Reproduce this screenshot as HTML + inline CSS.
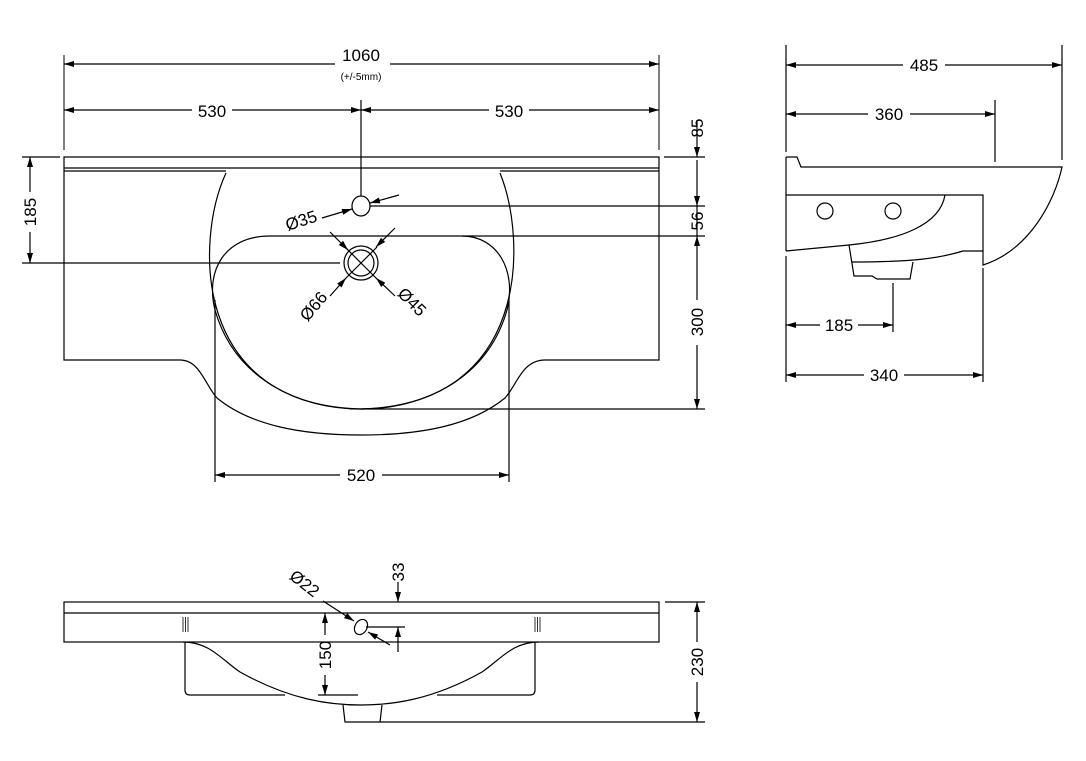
<!DOCTYPE html>
<html><head><meta charset="utf-8"><style>
html,body{margin:0;padding:0;background:#fff;}
svg{display:block;}
text{font-family:"Liberation Sans",sans-serif;font-size:17px;fill:#000;}
</style></head><body>
<svg width="1086" height="761" viewBox="0 0 1086 761" xmlns="http://www.w3.org/2000/svg">
<defs>
<marker id="a" viewBox="0 0 10 6" refX="10" refY="3" markerWidth="14" markerHeight="6" markerUnits="userSpaceOnUse" orient="auto-start-reverse"><path d="M0,0 L10,3 L0,6 z" fill="#000"/></marker>
</defs>
<g fill="none" stroke="#000" stroke-width="1.2">
<!-- TOP VIEW -->
<path d="M180,360 H64 V157 H659 V360 H545"/>
<path d="M180,360 C200,360 205,385 217,398 C250,425 300,435 361,435 C422,435 472,425 505,398 C517,385 522,360 545,360"/>
<line x1="64" y1="168" x2="659" y2="168"/>
<line x1="64" y1="171" x2="226" y2="171"/>
<line x1="500" y1="171" x2="659" y2="171"/>
<path d="M226,173 C195,240 192,405 361,409 C530,405 527,240 500,173"/>
<path d="M270,236 C225,236 205,270 215,310 C235,380 300,409 361,409 C422,409 487,380 507,310 C517,270 497,236 462,236"/>
<ellipse cx="361" cy="206" rx="9" ry="10"/>
<circle cx="361" cy="263" r="17"/><circle cx="361" cy="263" r="13"/>
<line x1="345" y1="247" x2="377" y2="279"/><line x1="377" y1="247" x2="345" y2="279"/>
<!-- dims top -->
<line x1="64" y1="55" x2="64" y2="150" stroke-width="1"/>
<line x1="659" y1="55" x2="659" y2="150" stroke-width="1"/>
<line x1="64" y1="64" x2="335" y2="64" marker-start="url(#a)"/>
<line x1="390" y1="64" x2="659" y2="64" marker-end="url(#a)"/>
<line x1="64" y1="110" x2="192" y2="110" marker-start="url(#a)"/>
<line x1="232" y1="110" x2="361" y2="110" marker-end="url(#a)"/>
<line x1="361" y1="110" x2="489" y2="110" marker-start="url(#a)"/>
<line x1="529" y1="110" x2="659" y2="110" marker-end="url(#a)"/>
<line x1="361" y1="100" x2="361" y2="196"/>
<line x1="22" y1="157" x2="60" y2="157"/>
<line x1="22" y1="263" x2="340" y2="263"/>
<line x1="30" y1="157" x2="30" y2="192" marker-start="url(#a)"/>
<line x1="30" y1="232" x2="30" y2="263" marker-end="url(#a)"/>
<line x1="664" y1="157" x2="705" y2="157"/>
<line x1="370" y1="206" x2="705" y2="206"/>
<line x1="270" y1="236" x2="705" y2="236"/>
<line x1="361" y1="409" x2="705" y2="409"/>
<line x1="697" y1="120" x2="697" y2="157" marker-end="url(#a)"/>
<line x1="697" y1="206" x2="697" y2="236"/>
<line x1="697" y1="160" x2="697" y2="206" marker-end="url(#a)"/>
<line x1="697" y1="236" x2="697" y2="300" marker-start="url(#a)"/>
<line x1="697" y1="345" x2="697" y2="409" marker-end="url(#a)"/>
<line x1="215" y1="300" x2="215" y2="482"/>
<line x1="509" y1="300" x2="509" y2="482"/>
<line x1="215" y1="475" x2="340" y2="475" marker-start="url(#a)"/>
<line x1="382" y1="475" x2="509" y2="475" marker-end="url(#a)"/>
<!-- leaders -->
<line x1="322" y1="218" x2="352" y2="209" marker-end="url(#a)"/>
<line x1="399" y1="195" x2="370" y2="203" marker-end="url(#a)"/>
<line x1="330" y1="232" x2="348" y2="250" marker-end="url(#a)"/>
<line x1="395" y1="228" x2="376" y2="247" marker-end="url(#a)"/>
<line x1="330" y1="296" x2="346" y2="278" marker-end="url(#a)"/>
<line x1="395" y1="296" x2="376" y2="278" marker-end="url(#a)"/>
<!-- SIDE VIEW -->
<path d="M786,157 H797 L801,167 H1062 C1055,200 1030,250 983,265 V251 H963 C940,258 915,262 852,262"/>
<line x1="786" y1="157" x2="786" y2="251"/>
<path d="M786,195 H983 V251"/>
<path d="M786,251 L849,245 C900,240 940,225 945,195"/>
<path d="M849,245 L854,276 H872 L877,279 H910 L913,262"/>
<circle cx="825" cy="211" r="8"/><circle cx="893" cy="211" r="8"/>
<line x1="786" y1="45" x2="786" y2="152"/>
<line x1="786" y1="256" x2="786" y2="382"/>
<line x1="1062" y1="45" x2="1062" y2="160"/>
<line x1="995" y1="100" x2="995" y2="162"/>
<line x1="983" y1="268" x2="983" y2="382"/>
<line x1="893" y1="283" x2="893" y2="332"/>
<line x1="786" y1="65" x2="903" y2="65" marker-start="url(#a)"/>
<line x1="945" y1="65" x2="1062" y2="65" marker-end="url(#a)"/>
<line x1="786" y1="114" x2="868" y2="114" marker-start="url(#a)"/>
<line x1="910" y1="114" x2="995" y2="114" marker-end="url(#a)"/>
<line x1="786" y1="325" x2="820" y2="325" marker-start="url(#a)"/>
<line x1="858" y1="325" x2="893" y2="325" marker-end="url(#a)"/>
<line x1="786" y1="375" x2="864" y2="375" marker-start="url(#a)"/>
<line x1="904" y1="375" x2="983" y2="375" marker-end="url(#a)"/>
<!-- FRONT VIEW -->
<rect x="64" y="602" width="595" height="40"/>
<line x1="64" y1="613" x2="659" y2="613"/>
<path d="M183,642 C210,642 222,660 240,672 C290,700 330,705 361,705 C392,705 432,700 482,672 C500,660 512,642 539,642"/>
<path d="M185,642 V690 Q185,695 190,695 H285"/>
<path d="M535,642 V690 Q535,695 530,695 H437"/>
<path d="M343,705 L345,722 H380 L382,705"/>
<line x1="380" y1="722" x2="705" y2="722"/>
<line x1="183" y1="617" x2="183" y2="632" stroke-width="0.8"/><line x1="185.5" y1="617" x2="185.5" y2="632" stroke-width="0.8"/><line x1="188" y1="617" x2="188" y2="632" stroke-width="0.8"/>
<line x1="535" y1="617" x2="535" y2="632" stroke-width="0.8"/><line x1="537.5" y1="617" x2="537.5" y2="632" stroke-width="0.8"/><line x1="540" y1="617" x2="540" y2="632" stroke-width="0.8"/>
<ellipse cx="361" cy="627" rx="6" ry="8" transform="rotate(30 361 627)"/>
<line x1="323" y1="601" x2="354" y2="621" marker-end="url(#a)"/>
<line x1="390" y1="645" x2="368" y2="632" marker-end="url(#a)"/>
<line x1="366" y1="627" x2="405" y2="627"/>
<line x1="398" y1="582" x2="398" y2="602" marker-end="url(#a)"/>
<line x1="398" y1="652" x2="398" y2="627" marker-end="url(#a)"/>
<line x1="325" y1="635" x2="325" y2="613" marker-end="url(#a)"/>
<line x1="325" y1="675" x2="325" y2="695" marker-end="url(#a)"/>
<line x1="318" y1="695" x2="358" y2="695"/>
<line x1="665" y1="602" x2="705" y2="602"/>
<line x1="697" y1="602" x2="697" y2="642" marker-start="url(#a)"/>
<line x1="697" y1="682" x2="697" y2="722" marker-end="url(#a)"/>
</g>
<g>
<text x="361" y="61" text-anchor="middle">1060</text>
<text x="361" y="80" text-anchor="middle" style="font-size:10px">(+/-5mm)</text>
<text x="212" y="117" text-anchor="middle">530</text>
<text x="509" y="117" text-anchor="middle">530</text>
<text transform="translate(36,212) rotate(-90)" text-anchor="middle">185</text>
<text transform="translate(703,128) rotate(-90)" text-anchor="middle">85</text>
<text transform="translate(703,221) rotate(-90)" text-anchor="middle">56</text>
<text transform="translate(703,322) rotate(-90)" text-anchor="middle">300</text>
<text x="361" y="481" text-anchor="middle">520</text>
<text transform="translate(303,226) rotate(-18)" text-anchor="middle">Ø35</text>
<text transform="translate(318,310) rotate(-50)" text-anchor="middle">Ø66</text>
<text transform="translate(408,306) rotate(45)" text-anchor="middle">Ø45</text>
<text x="924" y="71" text-anchor="middle">485</text>
<text x="889" y="120" text-anchor="middle">360</text>
<text x="839" y="331" text-anchor="middle">185</text>
<text x="884" y="381" text-anchor="middle">340</text>
<text transform="translate(301,588) rotate(38)" text-anchor="middle">Ø22</text>
<text transform="translate(404,572) rotate(-90)" text-anchor="middle">33</text>
<text transform="translate(331,655) rotate(-90)" text-anchor="middle">150</text>
<text transform="translate(703,662) rotate(-90)" text-anchor="middle">230</text>
</g>
</svg>
</body></html>
